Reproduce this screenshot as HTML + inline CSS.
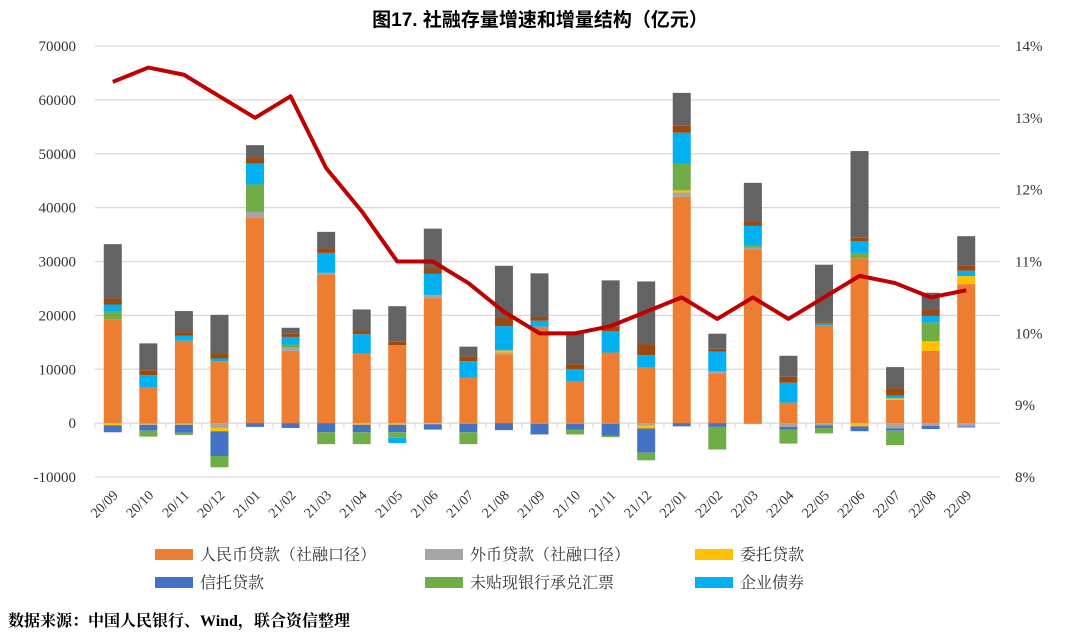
<!DOCTYPE html>
<html><head><meta charset="utf-8"><style>
body{margin:0;background:#fff;width:1080px;height:637px;overflow:hidden;}
svg text{font-family:"Liberation Serif","Noto Serif CJK SC",serif;}
</style></head><body>
<svg id="chart" width="1080" height="637" xmlns="http://www.w3.org/2000/svg">
<text x="540" y="26" text-anchor="middle" font-size="19" font-weight="bold" fill="#000" style="font-family:'Liberation Sans','Noto Sans CJK SC',sans-serif">图17.  社融存量增速和增量结构（亿元）</text>
<g id="grid"></g><g id="bars"></g><g id="line"></g><g id="axes"></g>
<g id="legend"></g>
<text x="8" y="626" font-size="16" font-weight="bold" fill="#000" style="font-family:'Liberation Serif','Noto Serif CJK SC',serif">数据来源：中国人民银行、Wind，联合资信整理</text>
</svg>
<script>
const categories=["20/09","20/10","20/11","20/12","21/01","21/02","21/03","21/04","21/05","21/06","21/07","21/08","21/09","21/10","21/11","21/12","22/01","22/02","22/03","22/04","22/05","22/06","22/07","22/08","22/09"];
const rmbLoans=[19300,6700,15300,11500,38100,13400,27600,12900,14500,23200,8400,12800,17900,7800,13100,10300,42000,9200,32300,3800,18200,30600,4300,13400,25800];
const fxLoans=[-100,-200,-200,-900,1100,600,300,-100,-100,600,-100,300,-100,-100,-100,-500,800,400,300,-700,-400,-100,-1000,-500,-600];
const entrusted=[-300,-100,-100,-600,0,0,0,-200,-200,-200,0,400,0,0,0,-500,400,0,0,0,0,-500,300,1800,1500];
const trust=[-1300,-1100,-1500,-4600,-700,-900,-1700,-1400,-1400,-1000,-1600,-1300,-2000,-1100,-2200,-4500,-600,-700,-100,-500,-500,-900,-400,-600,-200];
const bills=[1350,-1100,-400,-2100,5100,600,-2200,-2200,-1000,0,-2200,0,0,-900,-300,-1400,5000,-4200,300,-2600,-1000,1000,-2700,3500,0];
const bonds=[1370,2200,900,500,3900,1400,3700,3600,-1000,3900,3100,4500,1100,2200,4000,2300,5700,3700,3700,3700,400,2200,500,1200,1000];
const govBonds=[1100,900,700,1000,1000,600,800,700,600,1000,900,1600,700,900,900,2000,1300,500,900,1100,300,600,1400,1100,1000];
const others=[10100,5000,3900,7100,2400,1100,3100,3900,6600,7400,1800,9600,8100,6100,8500,11700,6100,2800,7100,3900,10500,16100,3900,3200,5400];
const growthRate=[13.5,13.7,13.6,13.3,13.0,13.3,12.3,11.7,11.0,11.0,10.7,10.3,10.0,10.0,10.1,10.3,10.5,10.2,10.5,10.2,10.5,10.8,10.7,10.5,10.6];
const leftTicks=[-10000,0,10000,20000,30000,40000,50000,60000,70000];
const rightTicks=[8,9,10,11,12,13,14];
const seriesNames=["人民币贷款（社融口径）","外币贷款（社融口径）","委托贷款","信托贷款","未贴现银行承兑汇票","企业债券"];

const series=[rmbLoans,fxLoans,entrusted,trust,bills,bonds,govBonds,others];
const colors=["#ED7D31","#A5A5A5","#FFC000","#4472C4","#70AD47","#00B0F0","#9E480E","#636363"];
const keys=["rmb-loans","fx-loans","entrusted-loans","trust-loans","bills","corporate-bonds","gov-bonds","others"];
const NS="http://www.w3.org/2000/svg";
const X0=95,X1=984,GX1=1000,yTop=46,yBot=477;
const yL=v=>yTop+(70000-v)/80000*(yBot-yTop);
const yR=v=>yTop+(14-v)/6*(yBot-yTop);
const step=(X1-X0)/categories.length;
const xC=i=>X0+step*(i+0.5);
function mk(tag,attrs,parent){const e=document.createElementNS(NS,tag);for(const k in attrs)e.setAttribute(k,attrs[k]);parent.appendChild(e);return e;}
const grid=document.getElementById('grid'),axes=document.getElementById('axes'),bars=document.getElementById('bars');
leftTicks.forEach(t=>{
  const l=mk('line',{x1:X0,x2:GX1,y1:yL(t),y2:yL(t),stroke:'#d9d9d9','stroke-width':1.3},grid);
  
  
  const tx=mk('text',{x:76,y:yL(t)+5,'text-anchor':'end','font-size':15,fill:'#333'},axes);
  tx.textContent=t;
  
  
});
rightTicks.forEach(t=>{
  const tx=mk('text',{x:1015,y:yR(t)+5,'font-size':15,fill:'#333'},axes);
  tx.textContent=t+'%';
  
  
});
const bw=18;
categories.forEach((c,i)=>{
  let pos=0,neg=0;
  series.forEach((s,k)=>{
    const v=s[i]; if(!v) return;
    let a,b;
    if(v>0){a=pos;b=pos+v;pos=b;}else{a=neg;b=neg+v;neg=b;}
    const y1=yL(Math.max(a,b)),y2=yL(Math.min(a,b));
    const r=mk('rect',{x:xC(i)-bw/2,y:y1,width:bw,height:Math.max(0.5,y2-y1),fill:colors[k]},bars);
    
    
  });
  const tk=mk('line',{x1:X0+step*i,x2:X0+step*i,y1:yL(0),y2:yL(0)+5,stroke:'#d9d9d9'},axes);
  
  
  const tx=mk('text',{x:xC(i)+6,y:496,'text-anchor':'end','font-size':14,fill:'#333',transform:`rotate(-45 ${xC(i)+6} 496)`},axes);
  tx.textContent=c;
  
  
});
const pts=growthRate.map((v,i)=>xC(i)+','+yR(v)).join(' ');
const pl=mk('polyline',{points:pts,fill:'none',stroke:'#C00000','stroke-width':4,'stroke-linejoin':'round'},document.getElementById('line'));


const lg=document.getElementById('legend');
seriesNames.forEach((n,k)=>{
  const col=k%3,row=Math.floor(k/3);
  const x=155+col*270,y=549+row*28;
  const g=mk('g',{},lg);
  
  
  mk('rect',{x:x,y:y,width:38,height:11,fill:colors[k]},g);
  const t=mk('text',{x:x+45,y:y+11,'font-size':16,fill:'#333'},g);
  t.textContent=n;
});
</script>
</body></html>
